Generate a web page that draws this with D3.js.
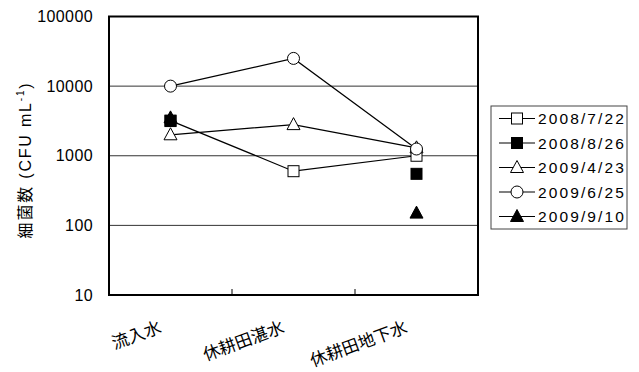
<!DOCTYPE html>
<html><head><meta charset="utf-8">
<script src="https://cdn.jsdelivr.net/npm/d3@7"></script>
<style>
body{margin:0;background:#fff;}
svg{display:block;font-family:"Liberation Sans",Arial,"Noto Sans CJK JP",sans-serif;}
</style></head>
<body><svg id="c" width="639" height="372"></svg>
<script>
const categories = ["流入水","休耕田湛水","休耕田地下水"];
const seriesNames = ["2008/7/22","2008/8/26","2009/4/23","2009/6/25","2009/9/10"];
const s20080722 = [3200, 600, 1000];
const s20080826 = [3150, null, 550];
const s20090423 = [2000, 2800, 1300];
const s20090625 = [10000, 25000, 1250];
const s20090910 = [3500, null, 150];
const seriesValues = [s20080722, s20080826, s20090423, s20090625, s20090910];
const markerTypes = ["square","square","triangle","circle","triangle"];
const markerFilled = [false,true,false,false,true];
const yTicks = [10,100,1000,10000,100000];

const svg = d3.select("#c");
const L=109, R=478, T=16.5, B=295;
const x = d3.scaleBand().domain(categories).range([L,R]);
const y = d3.scaleLog().domain([10,100000]).range([B,T]);

// gridlines
svg.append("g").selectAll("line").data(yTicks.slice(1,-1)).join("line")
  .attr("x1",L).attr("x2",R).attr("y1",d=>y(d)).attr("y2",d=>y(d))
  .attr("stroke","#333").attr("stroke-width",1);

// y axis labels
const yAxis = d3.axisLeft(y).tickValues(yTicks).tickFormat(d3.format("d")).tickSize(0).tickPadding(16);
const gy = svg.append("g").attr("transform",`translate(${L},0)`).call(yAxis);
gy.select(".domain").remove();
gy.selectAll("text").attr("font-size",16).attr("fill","#000").attr("letter-spacing","0.4px")
  .attr("font-family",'"Liberation Sans",Arial,sans-serif');

// x axis ticks (inside) at band boundaries
const gx = svg.append("g").attr("transform",`translate(0,${B})`);
gx.selectAll("line").data(categories.slice(1)).join("line")
  .attr("x1",d=>x(d)).attr("x2",d=>x(d)).attr("y1",0).attr("y2",-6)
  .attr("stroke","#000").attr("stroke-width",1);
gx.selectAll("text").data(categories).join("text")
  .attr("transform",d=>`translate(${x(d)+x.bandwidth()/2-8},${37}) rotate(-20)`)
  .attr("text-anchor","end").attr("font-size",17)
  .attr("font-family",'"Noto Sans CJK JP",sans-serif').text(d=>d);

// plot border
svg.append("rect").attr("x",L).attr("y",T).attr("width",R-L).attr("height",B-T)
  .attr("fill","none").attr("stroke","#000").attr("stroke-width",2);

// y title
svg.append("text").attr("transform",`translate(31,${160}) rotate(-90)`)
  .attr("text-anchor","middle").attr("font-size",16).attr("letter-spacing","1.8px")
  .html('<tspan font-family="Noto Sans CJK JP">細菌数</tspan> (CFU mL<tspan dy="-7" font-size="10">-1</tspan><tspan dy="7">)</tspan>');

function drawMarker(g, type, filled, cx, cy){
  const fill = filled ? "#000" : "#fff";
  if(type==="square"){
    g.append("rect").attr("x",cx-5.5).attr("y",cy-5.5).attr("width",11).attr("height",11)
      .attr("fill",fill).attr("stroke","#000").attr("stroke-width",1);
  } else if(type==="circle"){
    g.append("circle").attr("cx",cx).attr("cy",cy).attr("r",6)
      .attr("fill",fill).attr("stroke","#000").attr("stroke-width",1);
  } else {
    g.append("path").attr("d",`M${cx},${cy-7}L${cx+6.5},${cy+5}L${cx-6.5},${cy+5}Z`)
      .attr("fill",fill).attr("stroke","#000").attr("stroke-width",1);
  }
}

const cx = d=>x(d)+x.bandwidth()/2;
const line = d3.line().defined(d=>d.v!=null).x(d=>cx(d.c)).y(d=>y(d.v));
const gs = svg.append("g");
seriesValues.forEach((vals,i)=>{
  const pts = categories.map((c,j)=>({c, v: vals[j]}));
  gs.append("path").attr("d",line(pts)).attr("fill","none").attr("stroke","#000").attr("stroke-width",1.2);
});
seriesValues.forEach((vals,i)=>{
  categories.forEach((c,j)=>{
    if(vals[j]!=null) drawMarker(gs, markerTypes[i], markerFilled[i], cx(c), y(vals[j]));
  });
});

// legend
const lg = svg.append("g");
lg.append("rect").attr("x",491).attr("y",106).attr("width",136).attr("height",123)
  .attr("fill","#fff").attr("stroke","#444").attr("stroke-width",1);
seriesNames.forEach((n,i)=>{
  const yy = 118.5 + i*24.5;
  lg.append("line").attr("x1",499).attr("x2",535).attr("y1",yy).attr("y2",yy).attr("stroke","#000").attr("stroke-width",1.2);
  drawMarker(lg, markerTypes[i], markerFilled[i], 517, yy);
  lg.append("text").attr("x",538).attr("y",yy+5.5).attr("font-size",15.5).attr("letter-spacing","2.1px").text(n);
});
</script></body></html>
